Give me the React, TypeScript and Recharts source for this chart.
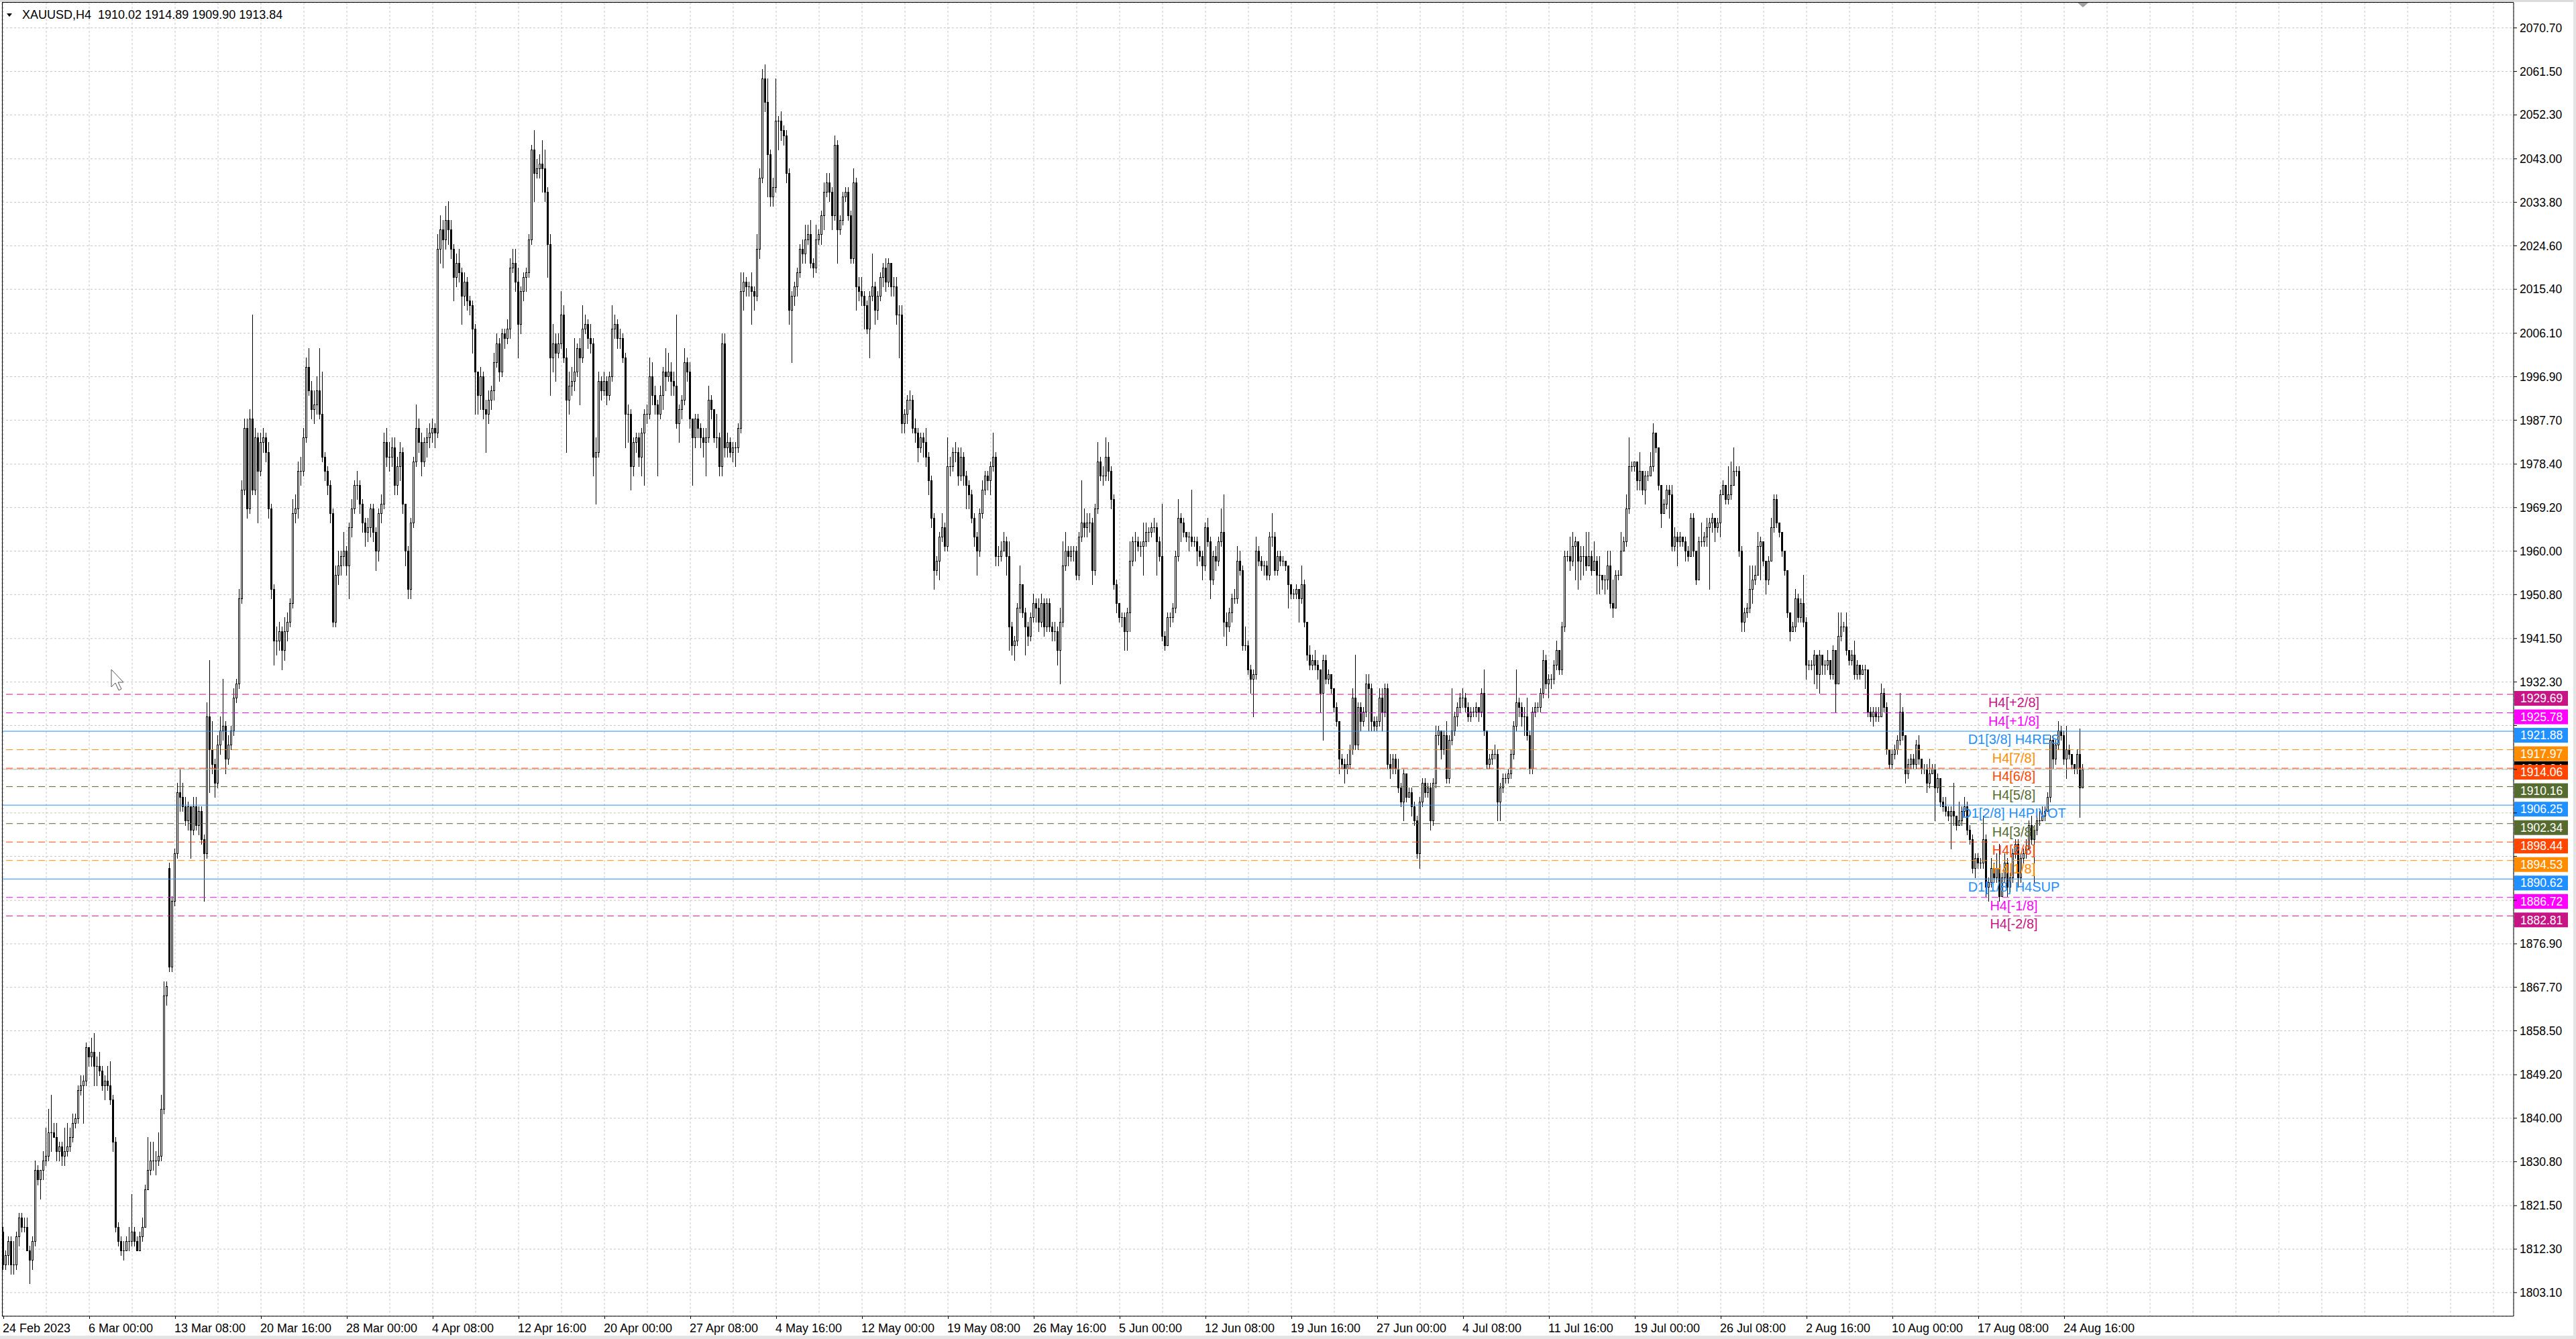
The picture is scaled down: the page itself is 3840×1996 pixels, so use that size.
import React from "react";
import { Bar, CartesianGrid, ComposedChart, ReferenceLine, XAxis, YAxis } from "recharts";

const FONT = "'Liberation Sans', Arial, sans-serif";

// H4 candles, oldest first (24 Feb 16:00 .. 25 Aug)
const closes = [
  1809,1811,1814,1809,1809,1815,1819,1817,1817,1812,
  1810,1814,1829,1827,1829,1831,1832,1837,1837,1836,
  1833,1834,1832,1833,1834,1836,1839,1840,1846,1847,
  1848,1855,1853,1854,1851,1851,1850,1847,1848,1847,
  1844,1835,1817,1814,1812,1812,1814,1814,1816,1814,
  1812,1815,1817,1825,1829,1831,1831,1831,1832,1842,
  1866,1868,1872,1886,1896,1909,1908,1906,1903,1906,
  1901,1906,1902,1905,1899,1896,1925,1918,1915,1911,
  1919,1922,1923,1916,1919,1922,1929,1932,1950,1973,
  1986,1969,1988,1973,1984,1977,1983,1984,1981,1969,
  1952,1941,1941,1943,1939,1943,1945,1949,1968,1969,
  1977,1977,1984,1999,1994,1990,1991,1994,1989,1980,
  1977,1974,1968,1945,1955,1957,1959,1960,1957,1965,
  1969,1974,1974,1970,1966,1964,1965,1969,1964,1960,
  1968,1970,1983,1980,1980,1982,1974,1978,1981,1970,
  1960,1952,1966,1979,1986,1983,1979,1983,1984,1985,
  1986,1985,2024,2028,2026,2030,2028,2024,2018,2021,
  2019,2014,2017,2013,2012,2007,1998,1993,1997,1990,
  1989,1992,1994,2000,2004,1998,2006,2005,2007,2020,
  2021,2017,2008,2015,2018,2019,2026,2045,2040,2041,
  2042,2041,2036,2025,2001,2004,2002,2004,2010,2001,
  1992,1995,1996,1998,2003,2001,2007,2008,2005,2004,
  1980,1981,1996,1994,1996,1993,1997,2007,2008,2005,
  2005,2001,1989,1989,1978,1983,1984,1980,1985,1989,
  1989,1997,1993,1991,1989,1993,1998,1997,1998,1996,
  1995,1987,1990,1992,2000,1998,1988,1984,1988,1986,
  1984,1983,1984,1992,1990,1984,1984,1978,2004,1982,
  1983,1981,1982,1982,1986,2015,2017,2016,2016,2015,
  2014,2024,2039,2060,2055,2044,2035,2037,2051,2051,
  2049,2048,2040,2011,2014,2016,2019,2024,2023,2026,
  2027,2021,2020,2026,2027,2031,2036,2038,2036,2031,
  2046,2028,2030,2035,2036,2031,2022,2038,2016,2015,
  2014,2012,2007,2014,2016,2011,2014,2018,2020,2017,
  2021,2016,2016,2010,2010,1987,1989,1992,1992,1986,
  1985,1982,1984,1983,1980,1975,1967,1956,1958,1963,
  1965,1961,1978,1978,1981,1981,1976,1980,1976,1974,
  1972,1967,1963,1960,1968,1973,1976,1975,1978,1980,
  1959,1959,1960,1962,1959,1944,1940,1941,1948,1953,
  1947,1944,1942,1946,1949,1948,1945,1949,1944,1949,
  1944,1943,1943,1939,1945,1957,1960,1959,1960,1960,
  1955,1963,1966,1965,1966,1966,1956,1969,1979,1976,
  1976,1980,1977,1971,1953,1949,1946,1946,1943,1947,
  1958,1962,1962,1961,1961,1962,1964,1964,1965,1965,
  1962,1959,1942,1940,1946,1946,1948,1959,1967,1966,
  1964,1963,1963,1962,1962,1960,1959,1957,1965,1962,
  1954,1959,1958,1962,1964,1945,1944,1947,1950,1950,
  1958,1956,1940,1940,1935,1933,1934,1960,1958,1957,
  1957,1955,1963,1963,1956,1959,1958,1958,1957,1953,
  1951,1951,1952,1950,1953,1945,1938,1936,1937,1936,
  1935,1930,1937,1933,1934,1931,1927,1924,1916,1915,
  1914,1915,1918,1929,1919,1927,1924,1926,1932,1931,
  1924,1923,1924,1929,1926,1931,1915,1914,1916,1914,
  1910,1907,1913,1908,1909,1906,1903,1896,1907,1911,
  1909,1910,1903,1911,1921,1922,1918,1921,1912,1920,
  1922,1925,1927,1929,1929,1927,1925,1926,1926,1927,
  1926,1930,1922,1915,1916,1917,1917,1907,1910,1912,
  1912,1913,1917,1923,1928,1927,1925,1925,1921,1914,
  1926,1927,1927,1930,1937,1932,1933,1933,1936,1939,
  1935,1944,1959,1959,1958,1961,1962,1958,1959,1959,
  1957,1959,1956,1958,1955,1955,1954,1954,1957,1949,
  1948,1955,1955,1960,1962,1969,1978,1978,1979,1975,
  1977,1973,1976,1976,1978,1985,1982,1974,1968,1970,
  1973,1972,1961,1963,1962,1963,1962,1960,1959,1967,
  1960,1954,1962,1962,1963,1965,1966,1967,1965,1966,
  1972,1974,1971,1972,1974,1977,1977,1960,1945,1947,
  1948,1952,1954,1955,1961,1962,1958,1954,1958,1965,
  1971,1966,1964,1960,1956,1947,1943,1944,1950,1946,
  1949,1945,1936,1936,1936,1938,1934,1938,1936,1936,
  1937,1934,1939,1932,1942,1944,1944,1939,1937,1938,
  1934,1936,1934,1935,1935,1926,1925,1926,1925,1925,
  1930,1927,1918,1915,1917,1918,1920,1926,1921,1913,
  1915,1916,1915,1919,1916,1914,1914,1911,1913,1914,
  1910,1912,1907,1906,1905,1904,1905,1904,1902,1903,
  1905,1906,1901,1899,1893,1895,1894,1894,1899,1889,
  1890,1893,1891,1893,1887,1891,1894,1889,1891,1896,
  1898,1891,1895,1896,1897,1902,1899,1901,1903,1903,
  1904,1905,1908,1920,1916,1919,1922,1921,1916,1918,
  1917,1915,1914,1917,1910.02,1913.84,
];

const highs = [
  1817,1812,1815,1815,1814,1816,1820,1820,1819,1819,
  1813,1815,1831,1830,1829,1833,1838,1842,1845,1839,
  1839,1835,1835,1838,1839,1838,1841,1841,1847,1849,
  1849,1856,1855,1857,1858,1853,1854,1851,1849,1851,
  1852,1845,1836,1818,1815,1814,1815,1817,1824,1817,
  1815,1816,1819,1826,1836,1835,1835,1833,1837,1845,
  1869,1869,1894,1887,1897,1911,1914,1911,1908,1907,
  1906,1908,1908,1906,1906,1900,1928,1937,1924,1916,
  1921,1925,1933,1924,1921,1923,1931,1933,1952,1975,
  1988,1988,1990,2010,1986,1985,1985,1986,1985,1983,
  1970,1953,1944,1945,1944,1946,1947,1950,1971,1972,
  1979,1980,1986,2001,2003,1996,1994,1997,2003,1998,
  1981,1978,1975,1969,1957,1960,1960,1964,1961,1966,
  1971,1975,1977,1975,1971,1967,1967,1970,1970,1965,
  1969,1972,1985,1986,1983,1984,1984,1980,1983,1982,
  1970,1961,1967,1980,1991,1988,1985,1984,1986,1987,
  1988,1987,2027,2031,2030,2033,2034,2030,2025,2023,
  2024,2020,2019,2018,2014,2013,2008,1998,1999,1998,
  1992,1994,1995,2002,2006,2005,2007,2007,2009,2022,
  2024,2024,2020,2016,2019,2020,2027,2046,2049,2043,
  2044,2047,2045,2037,2027,2008,2006,2006,2015,2012,
  2003,1998,1999,2005,2004,2005,2012,2010,2009,2008,
  2005,1984,1998,1997,1998,1997,1998,2012,2010,2009,
  2007,2006,2002,1991,1990,1984,1985,1985,1986,1990,
  1991,2001,2000,1995,1992,1995,1999,2003,2002,2000,
  1998,2010,1991,1993,2003,2001,2000,1988,1989,1989,
  1987,1986,1986,1995,1993,1990,1989,1985,2006,2006,
  1985,1984,1983,1983,1987,2019,2019,2018,2017,2019,
  2016,2027,2041,2062,2063,2060,2045,2039,2060,2052,
  2053,2050,2049,2041,2015,2017,2020,2025,2026,2029,
  2029,2030,2022,2029,2028,2032,2038,2040,2040,2037,
  2048,2047,2031,2036,2037,2037,2032,2041,2039,2018,
  2018,2015,2013,2015,2023,2017,2015,2019,2021,2022,
  2022,2021,2018,2018,2012,2012,1990,1993,1994,1993,
  1988,1986,1985,1985,1986,1981,1976,1968,1959,1964,
  1968,1966,1984,1980,1982,1983,1982,1982,1981,1977,
  1975,1973,1968,1964,1969,1975,1977,1977,1979,1985,
  1981,1961,1962,1964,1963,1962,1945,1942,1949,1957,
  1953,1948,1945,1947,1951,1950,1950,1951,1950,1950,
  1950,1945,1945,1944,1948,1962,1964,1961,1961,1961,
  1961,1964,1975,1969,1968,1968,1967,1970,1983,1980,
  1978,1984,1983,1978,1972,1954,1949,1947,1947,1948,
  1962,1963,1964,1963,1962,1966,1966,1965,1966,1967,
  1966,1963,1970,1943,1947,1947,1949,1960,1971,1968,
  1967,1964,1964,1973,1963,1963,1961,1960,1966,1967,
  1963,1960,1961,1963,1969,1972,1947,1948,1951,1952,
  1961,1960,1957,1944,1941,1936,1935,1963,1961,1959,
  1958,1958,1964,1968,1964,1960,1960,1959,1958,1957,
  1953,1952,1953,1952,1957,1954,1945,1940,1938,1939,
  1937,1935,1938,1938,1935,1934,1931,1928,1924,1917,
  1916,1917,1919,1931,1938,1928,1928,1927,1934,1934,
  1932,1925,1925,1931,1931,1932,1932,1917,1917,1917,
  1916,1911,1914,1913,1910,1910,1907,1904,1908,1912,
  1912,1911,1911,1912,1923,1923,1922,1922,1924,1921,
  1931,1926,1928,1930,1931,1930,1928,1927,1927,1928,
  1927,1931,1935,1922,1917,1918,1919,1918,1911,1913,
  1913,1914,1918,1924,1935,1929,1928,1927,1929,1922,
  1927,1928,1928,1931,1939,1938,1934,1934,1937,1941,
  1939,1945,1960,1960,1963,1964,1963,1962,1961,1961,
  1964,1964,1960,1962,1959,1959,1955,1955,1960,1960,
  1954,1956,1956,1964,1963,1972,1984,1979,1979,1979,
  1981,1977,1977,1977,1981,1987,1985,1982,1974,1971,
  1974,1974,1974,1965,1964,1964,1963,1963,1961,1968,
  1968,1960,1963,1966,1964,1967,1967,1968,1967,1967,
  1973,1975,1974,1978,1979,1982,1978,1978,1961,1948,
  1949,1957,1957,1957,1964,1963,1962,1958,1959,1967,
  1972,1972,1966,1964,1960,1956,1947,1945,1952,1951,
  1950,1955,1946,1937,1937,1939,1938,1939,1938,1937,
  1939,1937,1940,1939,1947,1947,1945,1947,1939,1939,
  1941,1937,1936,1936,1936,1935,1927,1927,1927,1927,
  1932,1931,1928,1918,1918,1919,1921,1930,1927,1921,
  1916,1917,1917,1920,1921,1916,1915,1915,1916,1915,
  1915,1913,1912,1908,1908,1906,1906,1911,1904,1907,
  1906,1908,1907,1902,1900,1896,1896,1895,1904,1900,
  1891,1895,1894,1896,1898,1892,1896,1895,1892,1897,
  1899,1899,1896,1897,1899,1903,1904,1902,1904,1905,
  1906,1906,1909,1921,1921,1920,1924,1923,1922,1923,
  1919,1917,1915,1918,1922.4,1914.89,
];

const lows = [
  1808,1808,1809,1807,1807,1808,1813,1816,1816,1812,
  1805,1808,1813,1826,1823,1827,1830,1831,1833,1836,
  1831,1831,1830,1830,1832,1833,1835,1838,1839,1845,
  1839,1847,1851,1851,1847,1847,1849,1846,1844,1846,
  1843,1833,1816,1813,1811,1810,1812,1812,1813,1813,
  1812,1812,1814,1817,1825,1828,1829,1828,1830,1831,
  1841,1864,1871,1871,1885,1895,1905,1905,1902,1901,
  1895,1900,1901,1900,1898,1886,1895,1909,1913,1908,
  1910,1917,1920,1913,1915,1918,1921,1928,1931,1949,
  1972,1967,1968,1972,1972,1966,1976,1981,1979,1967,
  1950,1936,1938,1939,1935,1937,1941,1944,1948,1966,
  1967,1974,1976,1983,1993,1988,1987,1989,1988,1979,
  1975,1972,1966,1944,1944,1953,1955,1957,1955,1950,
  1963,1968,1971,1968,1964,1961,1962,1963,1962,1956,
  1958,1966,1969,1978,1977,1978,1972,1972,1975,1968,
  1957,1950,1950,1965,1978,1981,1976,1978,1980,1982,
  1983,1982,1984,2021,2020,2024,2025,2022,2013,2016,
  2017,2008,2012,2011,2010,2002,1989,1989,1990,1988,
  1981,1987,1990,1992,1999,1996,1997,2003,2004,2005,
  2019,2015,2001,2006,2013,2015,2018,2025,2034,2039,
  2039,2036,2034,2018,1993,1998,1996,2001,2003,2000,
  1981,1989,1993,1994,1997,1991,2000,2006,2003,2002,
  1976,1970,1980,1992,1993,1991,1992,1996,2005,2003,
  2003,2000,1982,1983,1973,1976,1981,1978,1976,1974,
  1987,1988,1991,1989,1976,1988,1990,1994,1996,1993,
  1993,1986,1983,1988,1991,1996,1986,1974,1982,1984,
  1982,1980,1976,1983,1988,1983,1982,1976,1976,1980,
  1980,1980,1979,1978,1981,1985,2011,2014,2014,2008,
  2011,2013,2022,2038,2053,2035,2033,2033,2036,2045,
  2047,2046,2038,2008,2000,2012,2014,2018,2021,2021,
  2025,2020,2018,2019,2025,2025,2028,2035,2034,2028,
  2030,2021,2027,2029,2034,2030,2021,2021,2011,2013,
  2012,2007,2006,2001,2013,2008,2009,2013,2016,2015,
  2016,2014,2014,2008,2001,1985,1985,1987,1990,1985,
  1983,1979,1981,1980,1978,1972,1965,1952,1955,1954,
  1962,1960,1960,1976,1977,1979,1974,1975,1974,1969,
  1969,1966,1961,1955,1959,1967,1972,1973,1972,1977,
  1957,1957,1958,1960,1955,1939,1938,1937,1940,1947,
  1946,1938,1940,1941,1945,1945,1943,1944,1942,1943,
  1943,1941,1941,1936,1932,1944,1956,1957,1958,1958,
  1954,1954,1962,1963,1963,1964,1953,1955,1968,1975,
  1974,1975,1975,1969,1952,1947,1945,1944,1939,1939,
  1943,1957,1958,1960,1959,1955,1961,1962,1963,1964,
  1955,1958,1941,1939,1940,1944,1945,1947,1958,1962,
  1963,1962,1960,1961,1961,1957,1958,1954,1956,1961,
  1950,1953,1956,1957,1961,1942,1940,1943,1945,1949,
  1949,1955,1939,1939,1934,1930,1925,1933,1957,1956,
  1955,1954,1954,1961,1955,1955,1957,1957,1956,1948,
  1950,1950,1950,1945,1949,1944,1937,1935,1935,1935,
  1933,1926,1920,1932,1932,1930,1926,1923,1913,1914,
  1911,1913,1914,1917,1918,1918,1922,1923,1925,1922,
  1922,1922,1922,1923,1922,1925,1914,1912,1913,1913,
  1909,1906,1903,1907,1908,1904,1902,1895,1893,1906,
  1908,1908,1901,1902,1910,1919,1916,1917,1911,1911,
  1919,1921,1923,1926,1927,1926,1924,1924,1925,1925,
  1924,1925,1921,1914,1914,1915,1916,1903,1903,1909,
  1911,1911,1912,1916,1922,1925,1923,1921,1920,1913,
  1913,1925,1926,1926,1929,1931,1929,1931,1932,1935,
  1934,1934,1943,1958,1956,1957,1954,1952,1954,1955,
  1956,1957,1955,1956,1951,1951,1952,1951,1952,1948,
  1946,1948,1954,1955,1960,1961,1968,1977,1977,1973,
  1973,1972,1970,1975,1976,1977,1981,1973,1965,1968,
  1969,1967,1960,1960,1957,1961,1961,1958,1958,1959,
  1959,1953,1954,1961,1961,1961,1952,1964,1962,1964,
  1963,1972,1970,1970,1971,1974,1976,1959,1943,1943,
  1946,1947,1949,1953,1955,1954,1957,1951,1953,1958,
  1964,1965,1963,1959,1955,1946,1941,1943,1943,1945,
  1945,1944,1933,1935,1935,1932,1931,1930,1934,1934,
  1935,1933,1933,1926,1932,1941,1943,1938,1936,1936,
  1933,1933,1933,1934,1931,1925,1924,1923,1924,1924,
  1925,1926,1917,1914,1914,1916,1917,1919,1920,1911,
  1912,1914,1914,1914,1915,1913,1913,1909,1910,1913,
  1903,1909,1906,1905,1904,1903,1897,1902,1901,1902,
  1902,1904,1900,1898,1892,1891,1893,1893,1893,1887,
  1886,1889,1890,1890,1886,1887,1890,1887,1888,1890,
  1895,1889,1890,1894,1895,1897,1898,1890,1900,1902,
  1903,1903,1905,1907,1914,1915,1918,1920,1915,1912,
  1916,1914,1913,1913,1903.7,1909.9,
];

// opens follow the previous close except where the bar gapped
const gapOpens: Record<number, number> = { 0: 1816, 62: 1893 };

const xLabels = [
  "24 Feb 2023", "6 Mar 00:00", "13 Mar 08:00", "20 Mar 16:00", "28 Mar 00:00",
  "4 Apr 08:00", "12 Apr 16:00", "20 Apr 00:00", "27 Apr 08:00", "4 May 16:00",
  "12 May 00:00", "19 May 08:00", "26 May 16:00", "5 Jun 00:00", "12 Jun 08:00",
  "19 Jun 16:00", "27 Jun 00:00", "4 Jul 08:00", "11 Jul 16:00", "19 Jul 00:00",
  "26 Jul 08:00", "2 Aug 16:00", "10 Aug 00:00", "17 Aug 08:00", "24 Aug 16:00",
];

const yTicks = [
  2070.7, 2061.5, 2052.3, 2043.0, 2033.8, 2024.6, 2015.4, 2006.1, 1996.9, 1987.7,
  1978.4, 1969.2, 1960.0, 1950.8, 1941.5, 1932.3, 1923.1, 1913.8, 1904.6, 1895.4,
  1886.1, 1876.9, 1867.7, 1858.5, 1849.2, 1840.0, 1830.8, 1821.5, 1812.3, 1803.1,
];
// tick labels that sit under the coloured price boxes
const coveredTicks = [1923.1, 1913.8, 1904.6, 1895.4, 1886.1];

const levelPrices = [1929.69, 1925.78, 1921.88, 1917.97, 1914.06, 1910.16, 1906.25, 1902.34, 1898.44, 1894.53, 1890.62, 1886.72, 1882.81];
const levelNames = ["H4[+2/8]", "H4[+1/8]", "D1[3/8] H4RES", "H4[7/8]", "H4[6/8]", "H4[5/8]", "D1[2/8] H4PIVOT", "H4[3/8]", "H4[2/8]", "H4[1/8]", "D1[1/8] H4SUP", "H4[-1/8]", "H4[-2/8]"];
const levelColors = ["#c71585", "#ff00ff", "#1e90ff", "#ff8c00", "#ff4500", "#556b2f", "#1e90ff", "#556b2f", "#ff4500", "#ff8c00", "#1e90ff", "#ff00ff", "#c71585"];
const levelSolid = [false, false, true, false, false, false, true, false, false, false, true, false, false];

const bidPrice = 1913.84;
const headerText = "XAUUSD,H4  1910.02 1914.89 1909.90 1913.84";

const SLOTS = 936; // bar slots across the plot, the right part stays empty
const rows = Array.from({ length: SLOTS }, (_, i) => {
  if (i >= closes.length) return { i };
  const c = closes[i];
  const o = gapOpens[i] ?? closes[i - 1];
  return { i, o, c, h: Math.max(highs[i], o, c), l: Math.min(lows[i], o, c) };
});
const xTicks = Array.from({ length: 59 }, (_, k) => k * 16);

function Candle(p: any) {
  const d = p.payload;
  if (!d || d.o == null) return null;
  const top = Math.min(p.y, p.y + p.height);
  const span = Math.abs(p.height);
  const range = d.h - d.l;
  const at = (v: number) => (range > 0 ? top + ((d.h - v) / range) * span : top);
  const cx = Math.floor(p.x + p.width / 2);
  const yH = Math.round(at(d.h));
  const yL = Math.round(at(d.l));
  const bTop = Math.round(at(Math.max(d.o, d.c)));
  const bBot = Math.round(at(Math.min(d.o, d.c)));
  const bh = Math.max(1, bBot - bTop + 1);
  const up = d.c > d.o;
  return (
    <g shapeRendering="crispEdges">
      <rect x={cx} y={yH} width={1} height={Math.max(1, yL - yH + 1)} fill="#000" />
      <rect x={cx - 1} y={bTop} width={3} height={bh} fill="#000" />
      {up && bh > 2 && <rect x={cx} y={bTop + 1} width={1} height={bh - 2} fill="#fff" />}
    </g>
  );
}

function XTick(p: any) {
  const i = p.payload.value;
  if (i % 32 !== 0 || !xLabels[i / 32]) return null;
  return (
    <g>
      <line x1={p.x + 0.5} x2={p.x + 0.5} y1={p.y - 10} y2={p.y - 6} stroke="#000" />
      <text x={p.x - 1} y={p.y} dy="0.75em" textAnchor="start" fontSize={18} fontFamily={FONT} fill="#000">
        {xLabels[i / 32]}
      </text>
    </g>
  );
}

function YTick(p: any) {
  const v = p.payload.value;
  if (coveredTicks.some((t) => Math.abs(t - v) < 0.01)) return null;
  return (
    <text x={p.x} y={p.y} dy="0.355em" textAnchor="start" fontSize={17.5} fontFamily={FONT} fill="#000">
      {v.toFixed(2)}
    </text>
  );
}

function priceBox(vb: any, price: number, color: string, shift: number) {
  const right = vb.x + vb.width;
  return (
    <g>
      <rect x={right + 1} y={vb.y + shift} width={80} height={22} fill={color} />
      <text x={right + 10} y={vb.y + shift + 11} dy="0.355em" fontSize={17.5} fontFamily={FONT} fill="#fff">
        {price.toFixed(2)}
      </text>
    </g>
  );
}

export default function App() {
  return (
    <div style={{ position: "fixed", left: 0, top: 0, width: 3840, height: 1996, background: "#fff" }}>
      <ComposedChart width={3840} height={1996} data={rows} margin={{ top: 4, right: 0, bottom: 0, left: 3 }}>
        <CartesianGrid stroke="#c4c4c4" strokeDasharray="3 3" />
        <XAxis
          dataKey="i"
          type="category"
          ticks={xTicks}
          interval={0}
          tick={XTick}
          tickLine={false}
          tickSize={4}
          tickMargin={6}
          height={34}
          axisLine={{ stroke: "#000" }}
        />
        <YAxis
          orientation="right"
          type="number"
          domain={[1798.11, 2076.04]}
          allowDataOverflow
          ticks={yTicks}
          interval={0}
          tick={YTick}
          tickSize={5}
          tickMargin={4}
          width={93}
          axisLine={{ stroke: "#000" }}
          tickLine={{ stroke: "#000" }}
        />
        <ReferenceLine
          y={bidPrice}
          stroke="#c0c0c0"
          label={(lp: any) => priceBox(lp.viewBox, bidPrice, "#000", -12)}
        />
        <Bar
          dataKey={(d: any) => (d.o == null ? null : [d.l, d.h])}
          shape={(p: any) => <Candle {...p} />}
          isAnimationActive={false}
        />
        {levelPrices.map((price, k) => (
          <ReferenceLine
            key={levelNames[k]}
            y={price}
            stroke={levelColors[k]}
            strokeDasharray={levelSolid[k] ? undefined : "10 6"}
            label={(lp: any) => (
              <g>
                <text x={3002} y={lp.viewBox.y + 19} textAnchor="middle" fontSize={20} fontFamily={FONT} fill={levelColors[k]}>
                  {levelNames[k]}
                </text>
                {priceBox(lp.viewBox, price, levelColors[k], -5)}
              </g>
            )}
          />
        ))}
      </ComposedChart>
      <svg width={3840} height={1996} style={{ position: "absolute", left: 0, top: 0, pointerEvents: "none" }}>
        <rect x={0} y={0} width={3840} height={3} fill="#dcdcdc" />
        <rect x={0} y={1991} width={3840} height={5} fill="#e4e4e4" />
        <rect x={3836} y={0} width={4} height={1996} fill="#e4e4e4" />
        <line x1={3.5} x2={3.5} y1={3} y2={1962} stroke="#000" />
        <line x1={3} x2={3747} y1={3.5} y2={3.5} stroke="#000" />
        <polygon points="3097,4 3113,4 3105,11" fill="#a0a0a0" />
        <polygon points="10,20 18,20 14,25" fill="#000" />
        <text x={33} y={28} fontSize={18} fontFamily={FONT} fill="#000" style={{ whiteSpace: "pre" }}>
          {headerText}
        </text>
        {/* mouse pointer left on the chart */}
        <polygon
          points="166,998 166,1024 172,1018 177,1029 181,1027 176,1017 184,1017"
          fill="#fff"
          stroke="#555"
          strokeWidth={1}
        />
      </svg>
    </div>
  );
}
